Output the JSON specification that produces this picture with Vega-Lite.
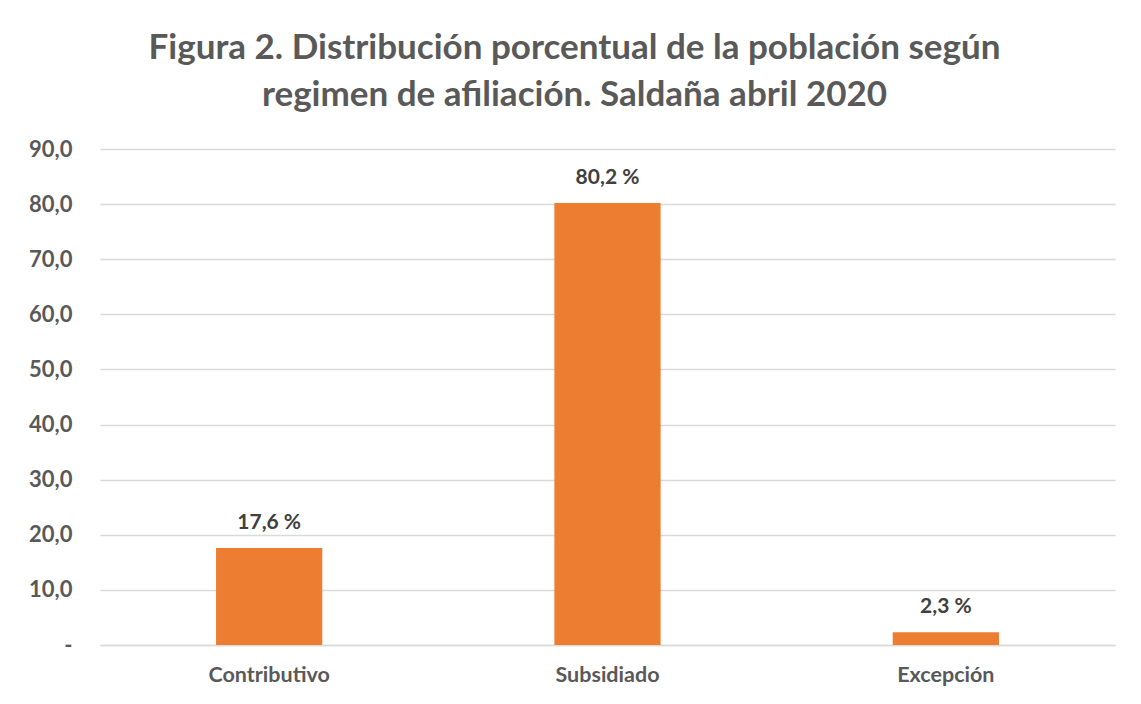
{
  "$schema": "https://vega.github.io/schema/vega-lite/v6.json",
  "autosize": "none",
  "width": 1015,
  "height": 496,
  "padding": {"left": 100, "top": 149, "right": 26, "bottom": 59},
  "background": "white",
  "title": {
    "text": ["Figura 2. Distribución porcentual de la población según", "regimen de afiliación. Saldaña abril 2020"],
    "font": "Lato",
    "fontSize": 35,
    "fontWeight": "bold",
    "color": "#595959",
    "lineHeight": 47,
    "anchor": "middle",
    "frame": "group",
    "dx": -33,
    "offset": 25
  },
  "data": {
    "values": [
      {"regimen": "Contributivo", "porcentaje": 17.6},
      {"regimen": "Subsidiado", "porcentaje": 80.2},
      {"regimen": "Excepción", "porcentaje": 2.3}
    ]
  },
  "transform": [
    {"calculate": "replace(format(datum.porcentaje, '.1f'), '.', ',') + ' %'", "as": "etiqueta"}
  ],
  "encoding": {
    "x": {
      "field": "regimen",
      "type": "nominal",
      "sort": null,
      "scale": {"paddingInner": 0.686, "paddingOuter": 0.343},
      "axis": {
        "title": null,
        "labelAngle": 0,
        "ticks": false,
        "domain": true,
        "domainColor": "#D9D9D9",
        "domainWidth": 1.5,
        "labelFont": "Lato",
        "labelFontSize": 21.5,
        "labelFontWeight": "bold",
        "labelColor": "#595959",
        "labelPadding": 19
      }
    },
    "y": {
      "field": "porcentaje",
      "type": "quantitative",
      "scale": {"domain": [0, 90]},
      "axis": {
        "title": null,
        "values": [0, 10, 20, 30, 40, 50, 60, 70, 80, 90],
        "ticks": false,
        "domain": false,
        "gridColor": "#D9D9D9",
        "gridWidth": 1.5,
        "labelFont": "Lato",
        "labelFontSize": 22,
        "labelFontWeight": "bold",
        "labelColor": "#595959",
        "labelPadding": 28,
        "labelExpr": "datum.value == 0 ? '-' : replace(format(datum.value, '.1f'), '.', ',')"
      }
    }
  },
  "layer": [
    {"mark": {"type": "bar", "color": "#ED7D31"}},
    {
      "mark": {"type": "text", "dy": -15, "baseline": "bottom", "font": "Lato", "fontSize": 21, "fontWeight": "bold", "color": "#404040"},
      "encoding": {"text": {"field": "etiqueta"}}
    }
  ],
  "config": {"view": {"stroke": null}}
}
